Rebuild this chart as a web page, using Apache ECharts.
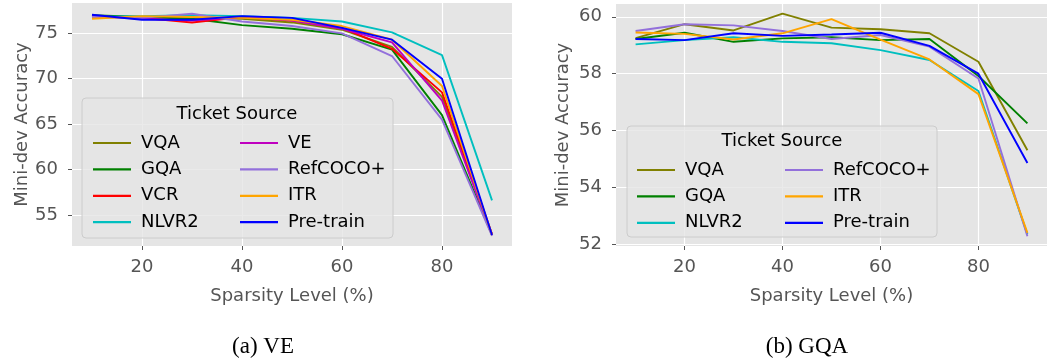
<!DOCTYPE html>
<html>
<head>
<meta charset="utf-8">
<script src="https://cdn.jsdelivr.net/npm/echarts@6/dist/echarts.min.js"></script>
<style>
html,body{margin:0;padding:0;background:#fff;}
#c{width:1047px;height:364px;}
</style>
</head>
<body>
<div id="c"></div>
<script>
// ---- data ----
const sparsity = [10, 20, 30, 40, 50, 60, 70, 80, 90];
const xTickValues = [20, 40, 60, 80];
const veTickValues = [55, 60, 65, 70, 75];
const gqaTickValues = [52, 54, 56, 58, 60];

// (a) VE
const veVQA      = [76.9, 76.8, 76.7, 76.6, 76.2, 75.4, 73.5, 68.0, 52.8];
const veGQA      = [77.0, 76.8, 76.6, 75.9, 75.5, 74.9, 73.2, 66.0, 52.8];
const veVCR      = [76.9, 76.7, 76.2, 76.8, 76.4, 75.6, 73.3, 68.5, 52.9];
const veNLVR2    = [76.8, 76.9, 77.0, 76.9, 76.7, 76.3, 75.1, 72.6, 56.6];
const veVE       = [76.9, 76.6, 76.4, 76.8, 76.4, 75.5, 74.0, 67.6, 52.8];
const veRefCOCO  = [76.8, 76.7, 77.15, 76.3, 75.8, 75.0, 72.5, 65.5, 52.7];
const veITR      = [76.6, 76.9, 76.8, 76.7, 76.5, 75.8, 74.3, 69.2, 52.8];
const vePretrain = [77.05, 76.5, 76.5, 76.9, 76.7, 75.6, 74.3, 70.0, 52.8];

// (b) GQA
const gqaVQA      = [59.25, 59.74, 59.52, 60.11, 59.62, 59.56, 59.42, 58.42, 55.31];
const gqaGQA      = [59.22, 59.44, 59.12, 59.24, 59.28, 59.18, 59.22, 57.92, 56.25];
const gqaNLVR2    = [59.03, 59.18, 59.28, 59.12, 59.07, 58.83, 58.48, 57.39, 52.35];
const gqaRefCOCO  = [59.50, 59.74, 59.70, 59.50, 59.22, 59.36, 58.95, 57.83, 52.28];
const gqaITR      = [59.45, 59.40, 59.20, 59.42, 59.92, 59.20, 58.50, 57.28, 52.40];
const gqaPretrain = [59.22, 59.18, 59.42, 59.33, 59.38, 59.44, 58.98, 58.00, 54.86];

const colors = {
  'VQA': '#808000', 'GQA': '#008000', 'VCR': '#ff0000', 'NLVR2': '#00bfbf',
  'VE': '#bf00bf', 'RefCOCO+': '#9370db', 'ITR': '#ffa500', 'Pre-train': '#0000ff'
};

const FONT = 'DejaVu Sans';
const FS = 18;

function mk(name, vals, gi) {
  return {
    type: 'line', name: name, xAxisIndex: gi, yAxisIndex: gi,
    data: sparsity.map((x, i) => [x, vals[i]]),
    showSymbol: false, symbol: 'none',
    lineStyle: { width: 1.9, color: colors[name] },
    itemStyle: { color: colors[name] },
    animation: false, z: 2
  };
}

function xAxis(gi) {
  return {
    type: 'value', gridIndex: gi, min: 6, max: 94,
    axisLine: { show: false },
    axisTick: { show: true, length: 4, lineStyle: { color: '#555555', width: 1 }, customValues: xTickValues },
    axisLabel: { customValues: xTickValues, color: '#555555', fontSize: FS, fontFamily: FONT, margin: 12 },
    splitLine: { show: true, lineStyle: { color: '#ffffff', width: 1.2 } },
    name: 'Sparsity Level (%)', nameLocation: 'middle', nameGap: 41,
    nameTextStyle: { color: '#555555', fontSize: FS, fontFamily: FONT }
  };
}
function yAxis(gi, mn, mx, ticks, gap) {
  return {
    type: 'value', gridIndex: gi, min: mn, max: mx,
    axisLine: { show: false },
    axisTick: { show: true, length: 4, lineStyle: { color: '#555555', width: 1 }, customValues: ticks },
    axisLabel: { customValues: ticks, color: '#555555', fontSize: FS, fontFamily: FONT, margin: 14 },
    splitLine: { show: true, lineStyle: { color: '#ffffff', width: 1.2 } },
    name: 'Mini-dev Accuracy', nameLocation: 'middle', nameGap: gap,
    nameTextStyle: { color: '#555555', fontSize: FS, fontFamily: FONT }
  };
}

function legend(left, top, names) {
  return {
    left: left, top: top, orient: 'vertical', z: 20,
    icon: 'rect', itemWidth: 38, itemHeight: 2.2, itemGap: 6.4,
    selectedMode: false,
    data: names,
    textStyle: { color: '#000', fontSize: FS, fontFamily: FONT, lineHeight: 20, padding: [0, 0, 0, 5] }
  };
}

const chart = echarts.init(document.getElementById('c'), null, { renderer: 'canvas' });
chart.setOption({
  animation: false,
  backgroundColor: '#ffffff',
  grid: [
    { left: 72, top: 3, width: 440, height: 243, show: true, backgroundColor: '#e5e5e5', borderWidth: 0 },
    { left: 616, top: 4, width: 440, height: 242, show: true, backgroundColor: '#e5e5e5', borderWidth: 0 }
  ],
  xAxis: [xAxis(0), xAxis(1)],
  yAxis: [yAxis(0, 51.58, 78.34, veTickValues, 39), yAxis(1, 51.94, 60.45, gqaTickValues, 44)],
  legend: [
    legend(88, 128, ['VQA', 'GQA', 'VCR', 'NLVR2']),
    legend(235, 128, ['VE', 'RefCOCO+', 'ITR', 'Pre-train']),
    legend(632, 155, ['VQA', 'GQA', 'NLVR2']),
    legend(780, 155, ['RefCOCO+', 'ITR', 'Pre-train'])
  ],
  graphic: [
    { type: 'rect', z: 10, shape: { x: 82, y: 98, width: 311, height: 140, r: 4 },
      style: { fill: 'rgba(229,229,229,0.8)', stroke: '#cccccc', lineWidth: 1 } },
    { type: 'rect', z: 10, shape: { x: 627, y: 126, width: 310, height: 111, r: 4 },
      style: { fill: 'rgba(229,229,229,0.8)', stroke: '#cccccc', lineWidth: 1 } },
    { type: 'text', z: 11, x: 237, y: 114,
      style: { text: 'Ticket Source', fill: '#000', font: FS + 'px "' + FONT + '"', textAlign: 'center', textVerticalAlign: 'middle' } },
    { type: 'text', z: 11, x: 782, y: 141,
      style: { text: 'Ticket Source', fill: '#000', font: FS + 'px "' + FONT + '"', textAlign: 'center', textVerticalAlign: 'middle' } },
    { type: 'text', z: 11, x: 263, y: 347,
      style: { text: '(a) VE', fill: '#000', font: '23px "Liberation Serif"', textAlign: 'center', textVerticalAlign: 'middle' } },
    { type: 'text', z: 11, x: 807, y: 347,
      style: { text: '(b) GQA', fill: '#000', font: '23px "Liberation Serif"', textAlign: 'center', textVerticalAlign: 'middle' } }
  ],
  series: [
    mk('VQA', veVQA, 0), mk('GQA', veGQA, 0), mk('VCR', veVCR, 0), mk('NLVR2', veNLVR2, 0),
    mk('VE', veVE, 0), mk('RefCOCO+', veRefCOCO, 0), mk('ITR', veITR, 0), mk('Pre-train', vePretrain, 0),
    mk('VQA', gqaVQA, 1), mk('GQA', gqaGQA, 1), mk('NLVR2', gqaNLVR2, 1),
    mk('RefCOCO+', gqaRefCOCO, 1), mk('ITR', gqaITR, 1), mk('Pre-train', gqaPretrain, 1)
  ]
});
</script>
</body>
</html>
